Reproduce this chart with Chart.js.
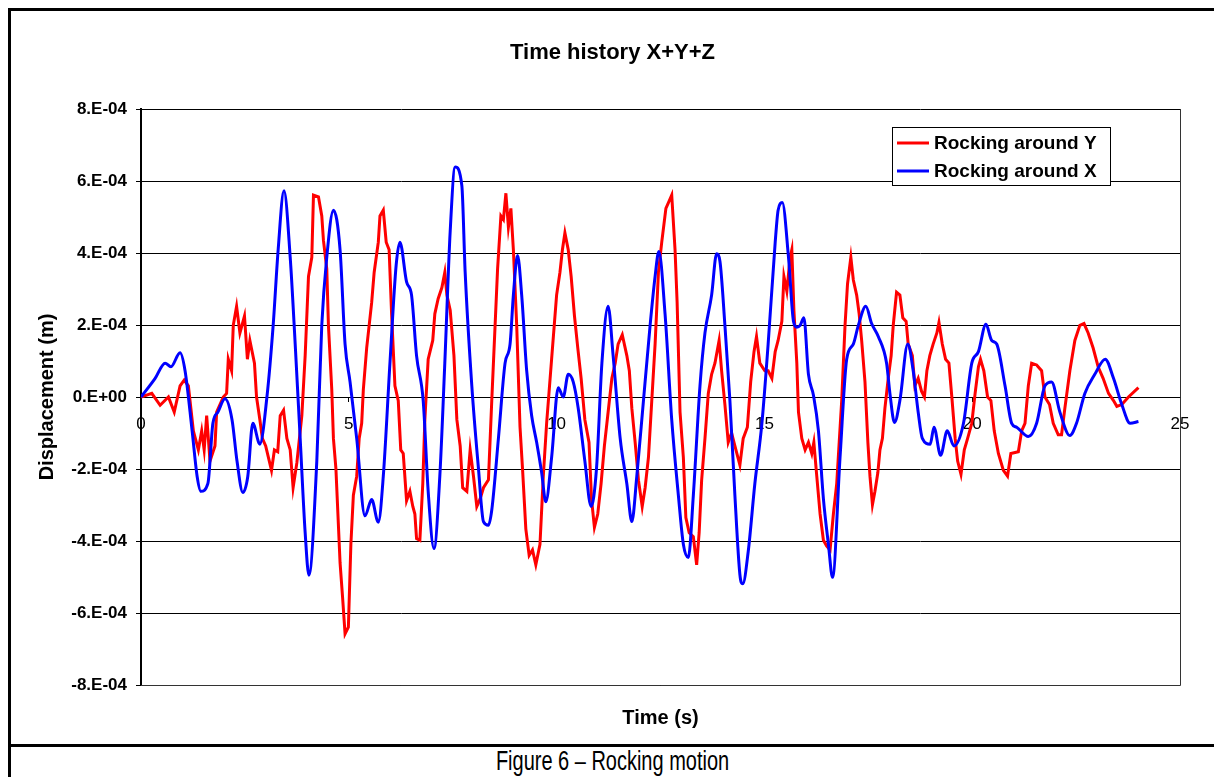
<!DOCTYPE html>
<html>
<head>
<meta charset="utf-8">
<script src="https://cdn.jsdelivr.net/npm/chart.js@4"></script>
<style>
html,body{margin:0;padding:0;background:#fff;width:1214px;height:777px;overflow:hidden;position:relative;font-family:'Liberation Sans',Arial,sans-serif}
.ln{position:absolute;background:#000}
#wrap{position:absolute;left:11px;top:11px;width:1203px;height:733px}
#c{display:block;width:1203px;height:733px}
#cap{position:absolute;left:11px;width:1203px;top:748px;text-align:center;font-size:27px;line-height:27px;transform:scaleX(0.74);transform-origin:50% 50%;white-space:nowrap;color:#000}
</style>
</head>
<body>
<div class="ln" style="left:8px;top:8px;width:1206px;height:3px"></div>
<div class="ln" style="left:8px;top:8px;width:3px;height:769px"></div>
<div class="ln" style="left:8px;top:744px;width:1206px;height:3px"></div>
<div id="wrap"><canvas id="c" width="1203" height="733"></canvas></div>
<div id="cap">Figure 6 – Rocking motion</div>
<script>
// Chart text
const chartTitle = 'Time history X+Y+Z';
const xAxisTitle = 'Time (s)';
const yAxisTitle = 'Displacement (m)';
const seriesNames = ['Rocking around Y', 'Rocking around X'];
const seriesColors = ['#FF0000', '#0000FF'];
const xTickLabels = ['0', '5', '10', '15', '20', '25'];
const yTickLabels = ['-8.E-04', '-6.E-04', '-4.E-04', '-2.E-04', '0.E+00', '2.E-04', '4.E-04', '6.E-04', '8.E-04'];

// Rocking around Y (red): time (s) and displacement (in units of 1E-4 m)
const timeRockY = [0,0.26,0.46,0.66,0.80,0.94,1.04,1.14,1.26,1.38,1.46,1.52,1.58,1.66,1.78,1.82,1.98,2.06,2.10,2.18,2.22,2.30,2.38,2.49,2.56,2.62,2.73,2.78,2.86,2.92,3.00,3.14,3.21,3.29,3.35,3.43,3.51,3.59,3.66,3.75,3.87,3.95,4.03,4.11,4.15,4.27,4.35,4.39,4.47,4.51,4.59,4.63,4.69,4.79,4.85,4.91,4.99,5.05,5.11,5.19,5.25,5.31,5.35,5.43,5.55,5.61,5.71,5.75,5.83,5.90,5.97,6.03,6.11,6.19,6.25,6.31,6.39,6.47,6.54,6.59,6.63,6.71,6.78,6.83,6.91,7.02,7.07,7.15,7.24,7.31,7.36,7.44,7.53,7.60,7.68,7.74,7.84,7.92,8.00,8.08,8.16,8.24,8.36,8.44,8.52,8.58,8.66,8.72,8.78,8.84,8.90,8.96,9.04,9.12,9.18,9.26,9.34,9.42,9.50,9.60,9.68,9.76,9.88,10.00,10.08,10.14,10.20,10.28,10.35,10.43,10.51,10.59,10.68,10.78,10.84,10.91,10.99,11.07,11.15,11.23,11.33,11.41,11.48,11.58,11.69,11.75,11.81,11.89,11.97,12.06,12.13,12.21,12.29,12.37,12.45,12.53,12.63,12.71,12.77,12.85,12.90,12.97,13.05,13.11,13.19,13.29,13.37,13.43,13.49,13.57,13.65,13.73,13.81,13.91,13.97,14.05,14.13,14.21,14.29,14.41,14.49,14.59,14.67,14.75,14.81,14.89,15.01,15.09,15.18,15.26,15.33,15.42,15.47,15.54,15.62,15.66,15.71,15.78,15.82,15.90,15.98,16.06,16.14,16.19,16.26,16.34,16.42,16.50,16.58,16.66,16.74,16.86,16.94,17.00,17.08,17.14,17.22,17.28,17.34,17.42,17.49,17.54,17.60,17.66,17.73,17.78,17.84,17.90,17.98,18.05,18.10,18.18,18.26,18.33,18.41,18.46,18.56,18.62,18.70,18.78,18.85,18.91,18.98,19.06,19.15,19.20,19.28,19.36,19.44,19.51,19.59,19.65,19.73,19.81,19.89,19.99,20.07,20.15,20.20,20.28,20.37,20.45,20.53,20.63,20.75,20.85,20.93,21.11,21.19,21.27,21.35,21.43,21.55,21.67,21.75,21.86,21.95,22.07,22.15,22.23,22.35,22.47,22.59,22.69,22.79,22.91,23.03,23.15,23.28,23.40,23.48,23.60,23.76,24.00];
const rockY = [0,0.1,-0.23,0,-0.42,0.31,0.47,0.31,-0.94,-1.47,-0.94,-1.47,-0.52,-1.78,-1.36,-0.42,0,0.1,1.05,0.73,1.99,2.52,1.78,2.25,1.05,1.57,0.94,0,-0.63,-1.15,-1.36,-2.04,-1.47,-1.52,-0.52,-0.37,-1.15,-1.47,-2.52,-1.83,-0.52,1.15,3.35,3.88,5.61,5.56,5.03,4.35,3.56,1.99,0.21,-1.15,-1.99,-4.61,-5.56,-6.58,-6.39,-4.09,-2.73,-2.2,-1.15,-0.73,0.21,1.36,2.62,3.46,4.3,5.03,5.19,4.3,4.09,2.31,0.31,-0.1,-1.47,-1.57,-2.88,-2.62,-3.04,-3.25,-3.93,-3.98,-2.41,-0.63,1.05,1.57,2.31,2.73,3.04,3.46,2.83,2.41,1.15,-0.63,-1.36,-2.52,-2.62,-1.47,-2.2,-3.04,-2.83,-2.52,-2.3,-0.1,1.99,3.56,5.03,4.93,5.66,4.72,5.24,4.09,1.99,-0.84,-1.99,-3.67,-4.4,-4.25,-4.66,-4.09,-2.2,-0.73,1.05,2.83,3.46,4.09,4.56,4.09,3.35,2.25,1.36,0.52,-0.63,-1.26,-2.83,-3.62,-3.25,-2.41,-1.36,-0.52,0.52,0.94,1.47,1.73,1.15,0.73,-0.31,-1.26,-2.31,-3.04,-2.52,-1.68,-0.1,1.47,3.46,4.3,5.24,5.45,5.61,4.09,2.62,-0.42,-1.68,-3.35,-3.77,-3.88,-4.66,-3.77,-2.31,-1.15,0.1,0.63,0.94,1.57,0.73,-0.21,-1.26,-1.0,-1.36,-1.89,-1.15,-0.84,0.42,1.26,1.68,0.94,0.73,0.73,0.52,1.26,1.57,2.1,3.35,2.94,3.88,4.09,2.41,0.94,-0.42,-1.15,-1.47,-1.26,-1.57,-1.26,-2.2,-3.25,-3.98,-4.14,-4.25,-3.25,-2.41,-0.1,1.99,3.14,3.88,3.25,2.83,2.31,1.57,0.42,-1.26,-2.2,-2.99,-2.62,-2.1,-1.47,-1.15,-0.31,0.52,1.15,1.99,2.91,2.83,2.2,2.1,1.47,1.15,0.31,0.52,0.16,0,0.73,1.15,1.47,1.78,2.07,1.47,1.05,0.94,0,-1.15,-1.78,-2.15,-1.47,-1.15,-0.73,0.1,0.84,1.05,0.73,0,-0.1,-0.94,-1.57,-2.04,-2.2,-1.57,-1.52,-0.94,-0.73,0.31,0.94,0.89,0.73,0,-0.21,-0.73,-1.05,-1.05,-0.31,0.73,1.57,1.99,2.04,1.78,1.36,0.84,0.52,0.1,-0.1,-0.26,-0.21,0,0.26];

// Rocking around X (blue): time (s) and displacement (in units of 1E-4 m)
const timeRockX = [0,0.34,0.58,0.72,0.94,1.06,1.23,1.35,1.44,1.61,1.73,1.85,2.02,2.19,2.31,2.45,2.57,2.69,2.86,3.03,3.18,3.30,3.44,3.59,3.71,3.83,3.95,4.04,4.23,4.35,4.47,4.63,4.79,4.91,5.03,5.19,5.39,5.55,5.71,5.83,5.99,6.14,6.23,6.39,6.51,6.63,6.79,6.91,7.05,7.19,7.31,7.44,7.56,7.72,7.80,7.96,8.12,8.24,8.36,8.44,8.60,8.76,8.88,8.96,9.06,9.16,9.28,9.40,9.52,9.64,9.74,9.88,10.04,10.16,10.28,10.40,10.52,10.68,10.83,10.96,11.09,11.24,11.36,11.53,11.69,11.81,11.93,12.09,12.25,12.37,12.46,12.61,12.77,12.93,13.05,13.17,13.29,13.45,13.57,13.73,13.85,13.93,14.05,14.17,14.29,14.41,14.48,14.61,14.77,14.94,15.09,15.26,15.33,15.43,15.58,15.70,15.78,15.86,15.95,16.06,16.18,16.30,16.42,16.54,16.64,16.82,16.98,17.14,17.26,17.44,17.58,17.74,17.94,18.02,18.13,18.26,18.45,18.58,18.70,18.80,18.99,19.08,19.24,19.40,19.56,19.79,19.99,20.15,20.33,20.47,20.59,20.79,20.95,21.07,21.35,21.55,21.75,21.91,22.11,22.35,22.51,22.71,22.95,23.20,23.40,23.60,23.80,24.00];
const rockX = [0,0.52,0.94,0.84,1.23,0.73,-0.94,-2.2,-2.62,-2.4,-0.73,-0.42,-0.05,-0.63,-1.78,-2.65,-2.2,-0.73,-1.31,0,1.99,4.09,5.73,3.88,1.47,-1.15,-3.77,-4.95,-1.78,2.0,3.88,5.19,4.09,1.47,0.42,-1.15,-3.3,-2.85,-3.48,-2.2,0.94,3.67,4.30,3.2,2.83,1.15,-0.1,-2.62,-4.21,-2.2,0.94,4.61,6.39,5.87,3.46,0.31,-1.99,-3.46,-3.56,-3.14,-1.15,0.94,1.47,2.83,3.93,2.83,0.73,-0.52,-1.26,-2.1,-2.91,-1.68,0.26,0,0.63,0.42,-0.31,-1.78,-3.04,-1.99,0.94,2.52,1.15,-1.15,-2.41,-3.46,-2.2,-0.1,1.99,3.35,4.04,2.3,-0.63,-2.73,-4.09,-4.46,-2.73,0.31,1.78,2.83,3.98,3.77,1.99,-0.1,-2.73,-4.93,-5.19,-4.3,-2.41,-0.73,1.47,4.30,5.19,5.4,3.88,2.1,1.94,1.99,2.2,0.63,0.05,-0.94,-2.83,-4.09,-5.01,-1.68,1.05,1.47,1.99,2.52,2.04,1.68,0.94,0.1,-0.71,-0.1,1.47,0.73,-0.42,-1.15,-1.31,-0.84,-1.62,-0.94,-1.36,-0.73,0.94,1.26,2.02,1.57,1.47,0.31,-0.73,-0.84,-1.1,-0.73,0.31,0.42,-0.42,-1.07,-0.73,0.1,0.63,1.05,0.52,-0.21,-0.73,-0.68];

const UNIT = 1e-4; // arrays are in units of 1E-4 m
const FONT = "'Liberation Sans', Arial, sans-serif";

function toPoints(ts, vs) { return ts.map((t, i) => ({x: t, y: vs[i] * UNIT})); }

const frameAndLegend = {
  id: 'frameAndLegend',
  afterDraw(chart) {
    const {ctx, chartArea: a} = chart;
    ctx.save();
    // plot area right/bottom edge
    ctx.strokeStyle = '#333';
    ctx.lineWidth = 1;
    ctx.beginPath();
    ctx.moveTo(a.right + 0.5, a.top);
    ctx.lineTo(a.right + 0.5, a.bottom + 0.5);
    ctx.lineTo(a.left, a.bottom + 0.5);
    ctx.stroke();
    // legend box
    const bx = 881.5, by = 116.5, bw = 218, bh = 58;
    ctx.fillStyle = '#fff';
    ctx.fillRect(bx, by, bw, bh);
    ctx.strokeStyle = '#000';
    ctx.strokeRect(bx, by, bw, bh);
    ctx.font = 'bold 19px ' + FONT;
    ctx.textBaseline = 'middle';
    ctx.textAlign = 'left';
    chart.data.datasets.forEach((ds, i) => {
      const y = 132 + i * 28;
      ctx.strokeStyle = ds.borderColor;
      ctx.lineWidth = 3;
      ctx.beginPath();
      ctx.moveTo(886, y);
      ctx.lineTo(918, y);
      ctx.stroke();
      ctx.fillStyle = '#000';
      ctx.fillText(ds.label, 923, y + 1);
    });
    ctx.restore();
  }
};

new Chart(document.getElementById('c'), {
  type: 'line',
  data: {
    datasets: [
      {label: seriesNames[0], data: toPoints(timeRockY, rockY), borderColor: seriesColors[0], backgroundColor: seriesColors[0], borderWidth: 3, pointRadius: 0, tension: 0, order: 1, xAxisID: 'x', yAxisID: 'y'},
      {label: seriesNames[1], data: toPoints(timeRockX, rockX), borderColor: seriesColors[1], backgroundColor: seriesColors[1], borderWidth: 3, pointRadius: 0, cubicInterpolationMode: 'monotone', order: 0, xAxisID: 'x', yAxisID: 'y'}
    ]
  },
  options: {
    responsive: false,
    devicePixelRatio: 1,
    animation: false,
    events: [],
    layout: {padding: {left: 0, top: 0, right: 0, bottom: 0}},
    plugins: {
      legend: {display: false},
      tooltip: {enabled: false},
      title: {display: true, text: chartTitle, color: '#000', font: {family: FONT, size: 22, weight: 'bold', lineHeight: 1.2}, padding: {top: 28.8, bottom: 42.8}}
    },
    scales: {
      x: {
        type: 'linear', min: 0, max: 25,
        position: {y: 0},
        grid: {display: true, drawOnChartArea: false, drawTicks: true, tickLength: 4, color: '#000'},
        border: {display: true, color: '#000', width: 1},
        ticks: {stepSize: 5, autoSkip: false, maxRotation: 0, padding: 13, color: '#000', font: {family: FONT, size: 17}, callback: (v, i) => xTickLabels[i]}
      },
      xTitle: {
        type: 'linear', axis: 'x', min: 0, max: 25, position: 'bottom',
        grid: {display: false}, border: {display: false}, ticks: {display: false},
        title: {display: true, text: xAxisTitle, color: '#000', font: {family: FONT, size: 20, weight: 'bold', lineHeight: 1.2}, padding: {top: 0, bottom: 14}},
        afterFit: (s) => { s.height = 59; }
      },
      y: {
        type: 'linear', min: -0.0008, max: 0.0008, position: 'left',
        grid: {display: true, color: '#000', lineWidth: 1, drawTicks: true, tickLength: 5},
        border: {display: true, color: '#000', width: 2},
        ticks: {stepSize: 0.0002, autoSkip: false, padding: 9, color: '#000', font: {family: FONT, size: 17, weight: 'bold'}, callback: (v, i) => yTickLabels[i]},
        title: {display: true, text: yAxisTitle, color: '#000', font: {family: FONT, size: 20, weight: 'bold', lineHeight: 1.2}, padding: {top: 24.5, bottom: 0}},
        afterFit: (s) => { s.width = 130; }
      },
      ySpacer: {
        type: 'linear', axis: 'y', min: 0, max: 1, position: 'right',
        grid: {display: false}, border: {display: false}, ticks: {display: false},
        afterFit: (s) => { s.width = 34; }
      }
    }
  },
  plugins: [frameAndLegend]
});
</script>
</body>
</html>
